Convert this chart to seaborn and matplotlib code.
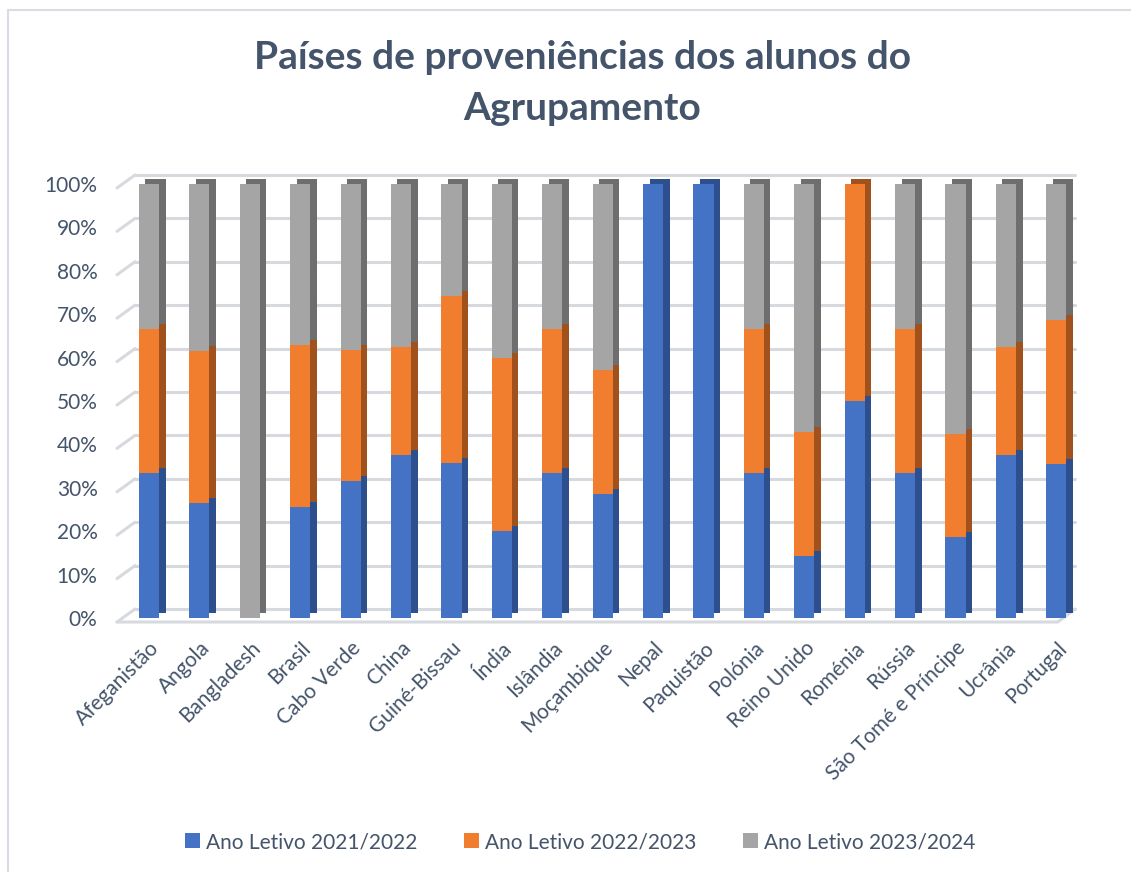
import numpy as np
import pandas as pd
import matplotlib.pyplot as plt
import seaborn as sns
from matplotlib.patches import Patch
from matplotlib.lines import Line2D
from matplotlib.transforms import ScaledTranslation

paises = ['Afeganistão', 'Angola', 'Bangladesh', 'Brasil', 'Cabo Verde', 'China',
          'Guiné-Bissau', 'Índia', 'Islândia', 'Moçambique', 'Nepal', 'Paquistão',
          'Polónia', 'Reino Unido', 'Roménia', 'Rússia', 'São Tomé e Príncipe',
          'Ucrânia', 'Portugal']
ano_2122 = [33.3, 26.4, 0, 25.6, 31.5, 37.5, 35.7, 20.0, 33.3, 28.6, 100, 100,
            33.3, 14.3, 50.0, 33.3, 18.6, 37.5, 35.5]
ano_2223 = [33.3, 35.1, 0, 37.4, 30.3, 25.0, 38.6, 40.0, 33.3, 28.5, 0, 0,
            33.3, 28.5, 50.0, 33.3, 23.7, 25.0, 33.2]
ano_2324 = [33.4, 38.5, 100, 37.0, 38.2, 37.5, 25.7, 40.0, 33.4, 42.9, 0, 0,
            33.4, 57.2, 0, 33.4, 57.7, 37.5, 31.3]
series = ['Ano Letivo 2021/2022', 'Ano Letivo 2022/2023', 'Ano Letivo 2023/2024']

cores = ['#4472C4', '#F07E2E', '#A5A5A5']
cores_lado = ['#2E4F8E', '#A0511C', '#6E6E6E']
cor_texto = '#44546A'

# cumulativos para empilhar (desenha do topo para baixo)
c1 = np.array(ano_2122)
c2 = c1 + np.array(ano_2223)
c3 = c2 + np.array(ano_2324)
cumulativos = [c1, c2, c3]

sns.set_theme(style='white')
plt.rcParams['font.family'] = ['Lato', 'DejaVu Sans']

fig = plt.figure(figsize=(11.31, 8.72), dpi=100)
ax = fig.add_axes([117 / 1131, 1 - 626.7 / 872, 958 / 1131, 460.1 / 872])

# faces laterais / topo (cópias deslocadas para dar efeito 3D)
desloc = ScaledTranslation(0.065, 0.05, fig.dpi_scale_trans)
for i in [2, 1, 0]:
    n0 = len(ax.patches)
    sns.barplot(x=paises, y=cumulativos[i], color=cores_lado[i], width=0.4,
                saturation=1, linewidth=0, ax=ax, zorder=2)
    for p in list(ax.patches)[n0:]:
        p.set_transform(ax.transData + desloc)

# faces frontais
for i in [2, 1, 0]:
    sns.barplot(x=paises, y=cumulativos[i], color=cores[i], width=0.4,
                saturation=1, linewidth=0, ax=ax, zorder=3)

ax.set_xlim(-0.635, 18.37)
ax.set_ylim(-2, 104)

# grelha estilo 3D (parede de fundo + diagonais)
ppu = 4.34
ticks = np.arange(0, 101, 10)
cor_grelha = '#D6D9DE'
x_fundo = 18 / 958
for v in ticks:
    ax.plot([x_fundo, 1], [v + 9 / ppu] * 2, color=cor_grelha, lw=2.2,
            transform=ax.get_yaxis_transform(), zorder=0, clip_on=False)
    ax.plot([0, x_fundo], [v - 4 / ppu, v + 9 / ppu], color=cor_grelha, lw=2.2,
            transform=ax.get_yaxis_transform(), zorder=0, clip_on=False)
ax.plot([0, 0.982, 1], [-4 / ppu, -4 / ppu, 9 / ppu], color=cor_grelha, lw=2.2,
        transform=ax.get_yaxis_transform(), zorder=1, clip_on=False)

ax.set_yticks(ticks)
ax.set_yticklabels([f'{v}%' for v in ticks])
ax.tick_params(axis='y', length=0, pad=14, labelsize=15, labelcolor=cor_texto)
ax.tick_params(axis='x', length=0, pad=8, labelsize=15, labelcolor=cor_texto)
plt.setp(ax.get_xticklabels(), rotation=45, ha='right', rotation_mode='anchor')
ax.set_xlabel('')
ax.set_ylabel('')
sns.despine(ax=ax, left=True, bottom=True)
ax.grid(False)

fig.text(0.515, 1 - 83 / 872, 'Países de proveniências dos alunos do\nAgrupamento',
         ha='center', va='center', fontsize=28, fontweight='bold',
         color=cor_texto, linespacing=1.55)

handles = [Patch(facecolor=c, edgecolor='none') for c in cores]
fig.legend(handles, series, loc='center', bbox_to_anchor=(0.513, 1 - 842 / 872),
           ncol=3, frameon=False, fontsize=15, handlelength=0.7, handleheight=0.7,
           handletextpad=0.3, columnspacing=2.25, labelcolor=cor_texto)

# moldura do gráfico
fig.add_artist(Line2D([8 / 1131, 1], [1 - 10 / 872] * 2, color='#D9DDE3', lw=1.5,
                      transform=fig.transFigure))
fig.add_artist(Line2D([8 / 1131] * 2, [0, 1 - 10 / 872], color='#D9DDE3', lw=1.5,
                      transform=fig.transFigure))

fig.savefig('out.png', dpi=100)
